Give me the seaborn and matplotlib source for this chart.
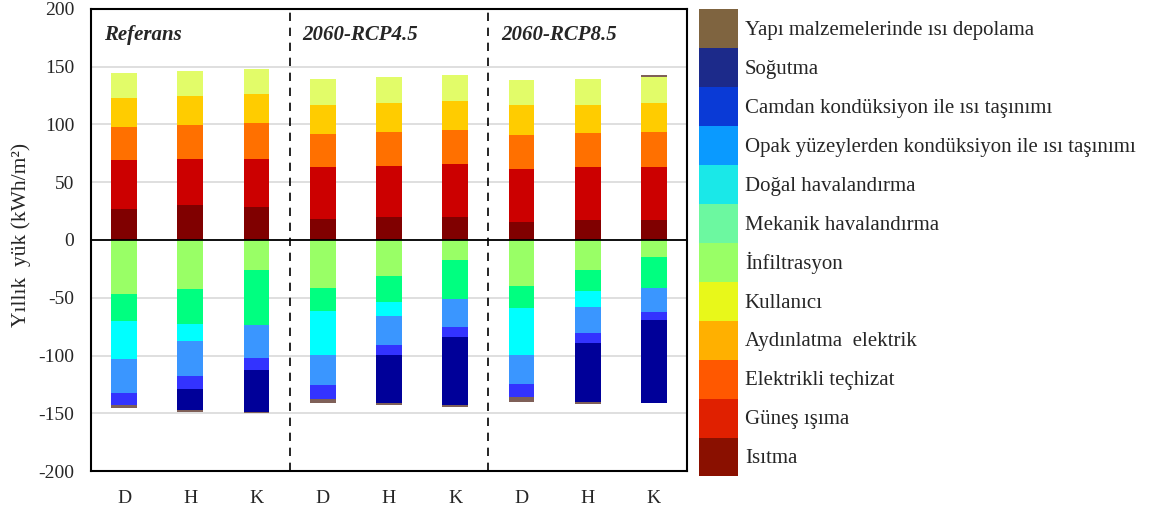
import numpy as np
import pandas as pd
import matplotlib
matplotlib.use("Agg")
import matplotlib.pyplot as plt
import seaborn as sns
from matplotlib.patches import Patch

# ---- data ----
bar_ids = ["R-D", "R-H", "R-K", "45-D", "45-H", "45-K", "85-D", "85-H", "85-K"]
tick_labels = ["D", "H", "K", "D", "H", "K", "D", "H", "K"]
group_titles = ["Referans", "2060-RCP4.5", "2060-RCP8.5"]

isitma       = [27.0, 30.0, 28.5, 18.5, 19.6, 19.6, 15.9, 17.0, 17.0]
gunes        = [42.0, 40.0, 41.5, 44.4, 44.7, 46.2, 45.8, 45.9, 45.9]
elektrikli   = [29.0, 29.5, 31.0, 29.2, 29.5, 29.2, 29.2, 29.5, 30.9]
aydinlatma   = [25.0, 25.0, 25.0, 25.1, 24.8, 25.3, 26.3, 24.8, 25.1]
kullanici    = [22.0, 22.0, 22.0, 22.2, 22.5, 22.6, 21.3, 22.5, 22.5]
infiltrasyon = [-47.0, -42.7, -25.7, -41.6, -31.6, -17.6, -39.8, -25.7, -14.7]
mekanik      = [-23.0, -30.3, -47.6, -20.0, -22.1, -33.5, -19.2, -18.5, -26.6]
dogal        = [-33.0, -14.2, 0.0, -38.2, -12.3, 0.0, -40.8, -14.1, 0.0]
opak         = [-29.5, -30.5, -29.1, -26.1, -25.2, -23.9, -25.3, -22.2, -20.8]
camdan       = [-10.5, -11.6, -9.9, -11.8, -8.7, -8.6, -11.1, -8.4, -7.2]
sogutma      = [0.0, -17.9, -36.3, 0.0, -41.5, -59.3, 0.0, -51.4, -72.1]
yapi         = [-2.5, -1.4, -1.5, -3.7, -1.5, -1.4, -3.8, -1.4, 1.5]

# stacking order (bottom -> top / zero -> down)
series_names = ["Isıtma", "Güneş ışıma", "Elektrikli teçhizat", "Aydınlatma  elektrik",
                "Kullanıcı", "İnfiltrasyon", "Mekanik havalandırma", "Doğal havalandırma",
                "Opak yüzeylerden kondüksiyon ile ısı taşınımı",
                "Camdan kondüksiyon ile ısı taşınımı", "Soğutma",
                "Yapı malzemelerinde ısı depolama"]
series_values = [isitma, gunes, elektrikli, aydinlatma, kullanici, infiltrasyon,
                 mekanik, dogal, opak, camdan, sogutma, yapi]
bar_colors = ["#800000", "#cc0000", "#ff7000", "#ffcc00", "#e2fc69", "#99ff66",
              "#00ff80", "#00ffff", "#3a96ff", "#3333ff", "#000099", "#7f6058"]
legend_colors = ["#8a1000", "#e02000", "#ff5800", "#ffb000", "#e8f81a", "#99ff66",
                 "#6cf8a0", "#1ae8e8", "#0a9aff", "#0a3ad6", "#1c2a8a", "#7f6440"]

# ---- style ----
sns.set_theme(style="white")
plt.rcParams["font.family"] = ["Liberation Serif", "DejaVu Serif"]
plt.rcParams["axes.unicode_minus"] = False
FS = 14
LFS = 15

fig = plt.figure(figsize=(11.53, 5.16), dpi=100)
ax = fig.add_axes([91 / 1153, 1 - 471 / 516, 596 / 1153, 462 / 516])

vals = np.array(series_values, dtype=float)
pos = np.clip(vals, 0, None)
neg = np.clip(vals, None, 0)
cum_pos = np.cumsum(pos, axis=0)
cum_neg = np.cumsum(neg, axis=0)

for k in range(len(series_names) - 1, -1, -1):
    p = np.where(pos[k] > 0, cum_pos[k], np.nan)
    n = np.where(neg[k] < 0, cum_neg[k], np.nan)
    for h in (p, n):
        if np.all(np.isnan(h)):
            continue
        df = pd.DataFrame({"bar": bar_ids, "val": h})
        sns.barplot(data=df, x="bar", y="val", order=bar_ids, color=bar_colors[k],
                    saturation=1, width=0.39, linewidth=0, errorbar=None, ax=ax)

ax.set_xlim(-0.5, 8.5)
ax.set_ylim(-200, 200)
ax.set_yticks(np.arange(-200, 201, 50))
ax.set_xticks(range(len(bar_ids)))
ax.set_xticklabels(tick_labels, fontsize=FS)
ax.tick_params(axis="y", labelsize=FS, length=0, pad=12)
ax.tick_params(axis="x", length=0, pad=14)
ax.set_xlabel("")
ax.set_ylabel("Yıllık  yük (kWh/m²)", fontsize=15.5, labelpad=4)
ax.yaxis.set_label_coords(-0.10, 0.51)
ax.yaxis.grid(True, color="#d9d9d9", linewidth=1.2)
ax.xaxis.grid(False)
ax.set_axisbelow(True)
for s in ax.spines.values():
    s.set_color("black")
    s.set_linewidth(1.5)
ax.axhline(0, color="black", linewidth=1.3, zorder=5)
for xv in (2.5, 5.5):
    ax.axvline(xv, color="black", linewidth=1.2, linestyle=(0, (5, 4)), zorder=5)

for i, t in enumerate(group_titles):
    ax.text(-0.31 + 3 * i, 177.5, t, fontsize=LFS, fontweight="bold", fontstyle="italic",
            ha="left", va="center")

handles = [Patch(facecolor=c, edgecolor="none") for c in legend_colors[::-1]]
labels = series_names[::-1]
fig.legend(handles, labels, loc="upper left",
           bbox_to_anchor=(699 / 1153, 1 - 9 / 516), frameon=False,
           fontsize=LFS, handlelength=1.87, handleheight=2.5, labelspacing=0.0,
           borderpad=0, borderaxespad=0, handletextpad=0.33)

fig.savefig("out.png", dpi=100)
